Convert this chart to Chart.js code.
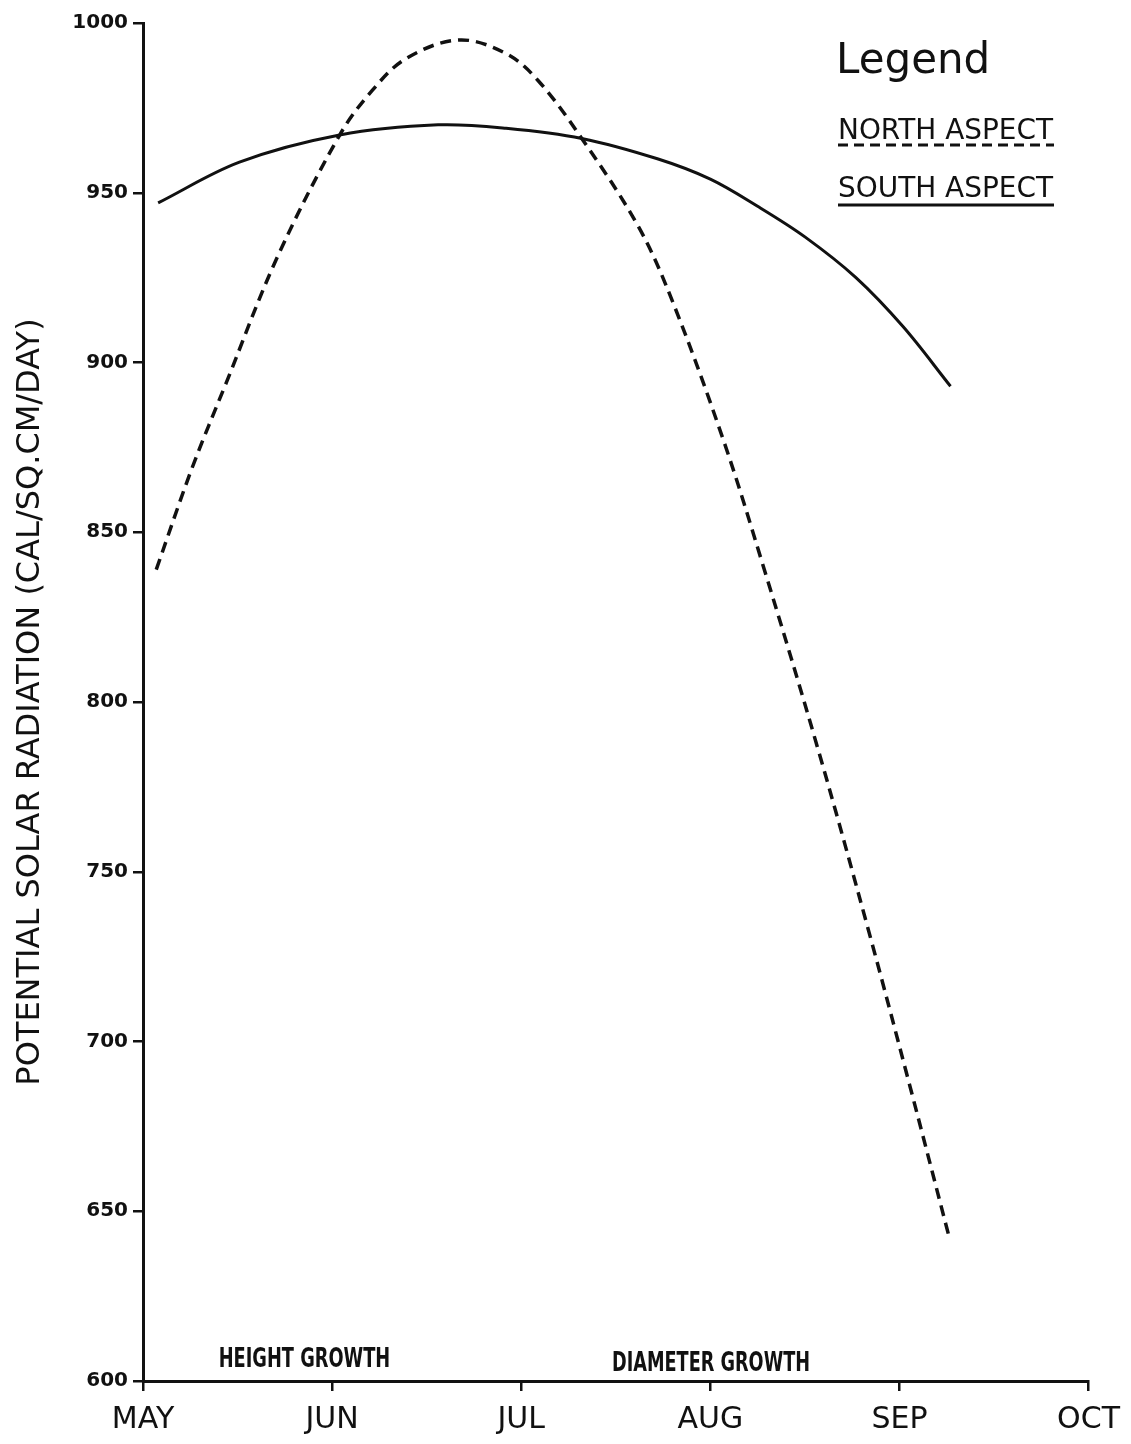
<!DOCTYPE html>
<html>
<head>
<meta charset="utf-8">
<script src="https://cdn.jsdelivr.net/npm/chart.js@4.4.1/dist/chart.umd.min.js"></script>
<style>
    body { margin: 0; background: #fff; }
    canvas { display: block; }
</style>
</head>
<body>
<canvas id="solarChart" width="1131" height="1444"></canvas>
<script>
// x values are months after 1 May (0 = MAY, 5 = OCT)
const monthLabels = ['MAY', 'JUN', 'JUL', 'AUG', 'SEP', 'OCT'];
const yTicks = [600, 650, 700, 750, 800, 850, 900, 950, 1000];

const northMonths = [0.07, 0.26, 0.44, 0.71, 1.04, 1.21, 1.39, 1.67, 1.92, 2.09, 2.32, 2.62, 2.80, 3.07, 3.28, 3.57, 3.84, 4.05, 4.26];
const northValues = [839, 869, 894, 931, 967, 980, 989.5, 995, 991, 983, 966, 940, 918, 877, 840, 786, 732, 688, 643];

const southMonths = [0.08, 0.51, 1.04, 1.56, 1.92, 2.32, 2.72, 3.00, 3.25, 3.50, 3.77, 4.02, 4.27];
const southValues = [947, 959, 967, 970, 969, 966, 960, 954, 946, 937, 925, 910.5, 893];

// growth period notes: [text, month, value]
const growthNotes = [
    ['HEIGHT GROWTH', 0.40, 604],
    ['DIAMETER GROWTH', 2.48, 603]
];

const toPoints = (xs, ys) => xs.map((x, i) => ({ x, y: ys[i] }));

// Draws the hand-lettered legend and the growth notes
const notesPlugin = {
    id: 'notes',
    afterDraw(chart) {
        const ctx = chart.ctx;
        const xs = chart.scales.x;
        const ys = chart.scales.y;
        ctx.save();
        ctx.fillStyle = '#111';
        ctx.strokeStyle = '#111';
        ctx.textBaseline = 'alphabetic';

        ctx.font = '42px "DejaVu Sans"';
        ctx.fillText('Legend', 836, 73);

        ctx.font = '28px "DejaVu Sans"';
        ctx.fillText('NORTH ASPECT', 838, 139, 215);
        ctx.fillText('SOUTH ASPECT', 838, 197, 215);

        ctx.lineWidth = 3;
        ctx.setLineDash([10, 6]);
        ctx.beginPath();
        ctx.moveTo(838, 145);
        ctx.lineTo(1054, 145);
        ctx.stroke();
        ctx.setLineDash([]);
        ctx.beginPath();
        ctx.moveTo(838, 205);
        ctx.lineTo(1054, 205);
        ctx.stroke();

        ctx.font = 'bold 26px "DejaVu Sans Condensed", "DejaVu Sans"';
        growthNotes.forEach(([text, m, v]) => {
            const w = text.length * 13.2;
            ctx.fillText(text, xs.getPixelForValue(m), ys.getPixelForValue(v), w);
        });
        ctx.restore();
    }
};

document.addEventListener('DOMContentLoaded', () => {
    const ctx = document.getElementById('solarChart').getContext('2d');
    new Chart(ctx, {
        type: 'line',
        data: {
            datasets: [
                {
                    label: 'NORTH ASPECT',
                    data: toPoints(northMonths, northValues),
                    borderColor: '#111',
                    borderWidth: 3.5,
                    borderDash: [11, 7],
                    pointRadius: 0,
                    tension: 0.35,
                    fill: false
                },
                {
                    label: 'SOUTH ASPECT',
                    data: toPoints(southMonths, southValues),
                    borderColor: '#111',
                    borderWidth: 3,
                    pointRadius: 0,
                    tension: 0.35,
                    fill: false
                }
            ]
        },
        options: {
            responsive: false,
            animation: false,
            layout: { padding: { top: 23, right: 38, left: 0, bottom: 0 } },
            plugins: {
                legend: { display: false },
                tooltip: { enabled: false }
            },
            scales: {
                x: {
                    type: 'linear',
                    min: 0,
                    max: 5,
                    afterFit: scale => { scale.height = 63; },
                    afterBuildTicks: scale => {
                        scale.ticks = monthLabels.map((_, i) => ({ value: i }));
                    },
                    border: { display: true, color: '#111', width: 3 },
                    grid: { drawOnChartArea: false, drawTicks: true, tickLength: 10, color: '#111', lineWidth: 2.5 },
                    ticks: {
                        color: '#111',
                        padding: 11,
                        maxRotation: 0,
                        autoSkip: false,
                        font: { family: 'DejaVu Sans', size: 30 },
                        callback: value => monthLabels[value]
                    }
                },
                y: {
                    min: 600,
                    max: 1000,
                    afterFit: scale => { scale.width = 143; },
                    afterBuildTicks: scale => {
                        scale.ticks = yTicks.map(v => ({ value: v }));
                    },
                    border: { display: true, color: '#111', width: 3 },
                    grid: { drawOnChartArea: false, drawTicks: true, tickLength: 10, color: '#111', lineWidth: 2.5 },
                    ticks: {
                        color: '#111',
                        padding: 5,
                        font: { family: 'DejaVu Sans', size: 20, weight: 'bold' },
                        callback: value => String(value)
                    },
                    title: {
                        display: true,
                        text: 'POTENTIAL SOLAR RADIATION (CAL/SQ.CM/DAY)',
                        color: '#111',
                        padding: { top: 11, bottom: 0 },
                        font: { family: 'DejaVu Sans', size: 32 }
                    }
                }
            }
        },
        plugins: [notesPlugin]
    });
});
</script>
</body>
</html>
